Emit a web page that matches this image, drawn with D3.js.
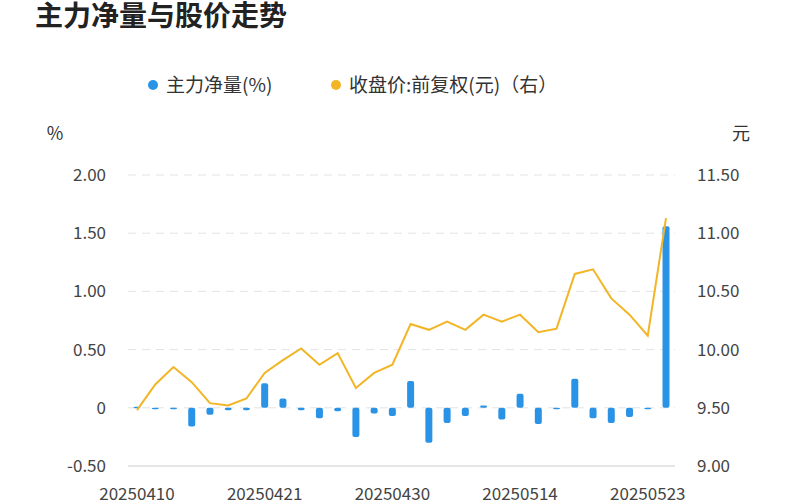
<!DOCTYPE html><html><head><meta charset="utf-8"><script src="https://cdn.jsdelivr.net/npm/d3@7"></script>
<style>body{margin:0;background:#fff}text{font-family:"Noto Sans CJK SC","Noto Sans",sans-serif}</style></head><body><svg id="c" width="800" height="500"></svg><script>
const dates=["20250410","20250411","20250414","20250415","20250416","20250417","20250418","20250421","20250422","20250423","20250424","20250425","20250428","20250429","20250430","20250506","20250507","20250508","20250509","20250512","20250513","20250514","20250515","20250516","20250519","20250520","20250521","20250522","20250523","20250526"];
const netFlow=[0.01,-0.005,0,-0.16,-0.06,-0.02,-0.02,0.21,0.08,-0.02,-0.09,-0.03,-0.25,-0.05,-0.07,0.23,-0.30,-0.13,-0.07,0.02,-0.10,0.12,-0.14,-0.01,0.25,-0.09,-0.13,-0.08,-0.01,1.56];
const price=[9.48,9.70,9.85,9.72,9.54,9.52,9.58,9.80,9.91,10.01,9.87,9.97,9.67,9.80,9.87,10.22,10.17,10.24,10.17,10.30,10.24,10.30,10.15,10.18,10.65,10.69,10.44,10.30,10.12,11.13];
const leftTicks=[-0.5,0,0.5,1,1.5,2];
const rightTicks=[9,9.5,10,10.5,11,11.5];
const labelIdx=[0,7,14,21,28];
const svg=d3.select("#c");
const x=d3.scalePoint().domain(d3.range(dates.length)).range([137,666]);
const yl=d3.scaleLinear().domain([-0.5,2]).range([466,175]);
const yr=d3.scaleLinear().domain([9,11.5]).range([466,175]);
svg.append("text").attr("x",35).attr("y",26).attr("font-size",28).attr("font-weight","bold").attr("fill","#222").text("主力净量与股价走势");
// legend
const lg=svg.append("g");
lg.append("circle").attr("cx",153).attr("cy",85).attr("r",5).attr("fill","#2b93e6");
lg.append("text").attr("x",166).attr("y",92).attr("font-size",19).attr("fill","#333").text("主力净量(%)");
lg.append("circle").attr("cx",336).attr("cy",85).attr("r",5).attr("fill","#f2b526");
lg.append("text").attr("x",349).attr("y",92).attr("font-size",19).attr("fill","#333").text("收盘价:前复权(元)（右）");
svg.append("text").attr("x",55).attr("y",140).attr("font-size",18).attr("fill","#333").attr("text-anchor","middle").text("%");
svg.append("text").attr("x",741).attr("y",140).attr("font-size",18).attr("fill","#333").attr("text-anchor","middle").text("元");
leftTicks.forEach(t=>{
  if(t!==-0.5) svg.append("line").attr("x1",128).attr("x2",675).attr("y1",yl(t)).attr("y2",yl(t)).attr("stroke","#e3e3e3").attr("stroke-dasharray","8,6");
  svg.append("text").attr("x",106).attr("y",yl(t)+6).attr("text-anchor","end").attr("font-size",17).attr("fill","#444").text(t===0?"0":t.toFixed(2));
});
svg.append("line").attr("x1",128).attr("x2",675).attr("y1",466).attr("y2",466).attr("stroke","#ddd").attr("stroke-width",1.5);
rightTicks.forEach(t=>svg.append("text").attr("x",697).attr("y",yr(t)+6).attr("font-size",17).attr("fill","#444").text(t.toFixed(2)));
labelIdx.forEach(i=>svg.append("text").attr("x",x(i)).attr("y",500).attr("text-anchor","middle").attr("font-size",17).attr("fill","#444").text(dates[i]));
const bw=7;
svg.append("g").selectAll("rect").data(netFlow).join("rect")
 .attr("x",(d,i)=>x(i)-bw/2).attr("width",bw)
 .attr("y",d=>Math.min(yl(d),yl(0))).attr("height",d=>Math.max(1.5,Math.abs(yl(d)-yl(0))))
 .attr("rx",2).attr("fill","#2b93e6");
svg.append("path").datum(price).attr("fill","none").attr("stroke","#f2b526").attr("stroke-width",2)
 .attr("d",d3.line().x((d,i)=>x(i)).y(d=>yr(d)));
</script></body></html>
